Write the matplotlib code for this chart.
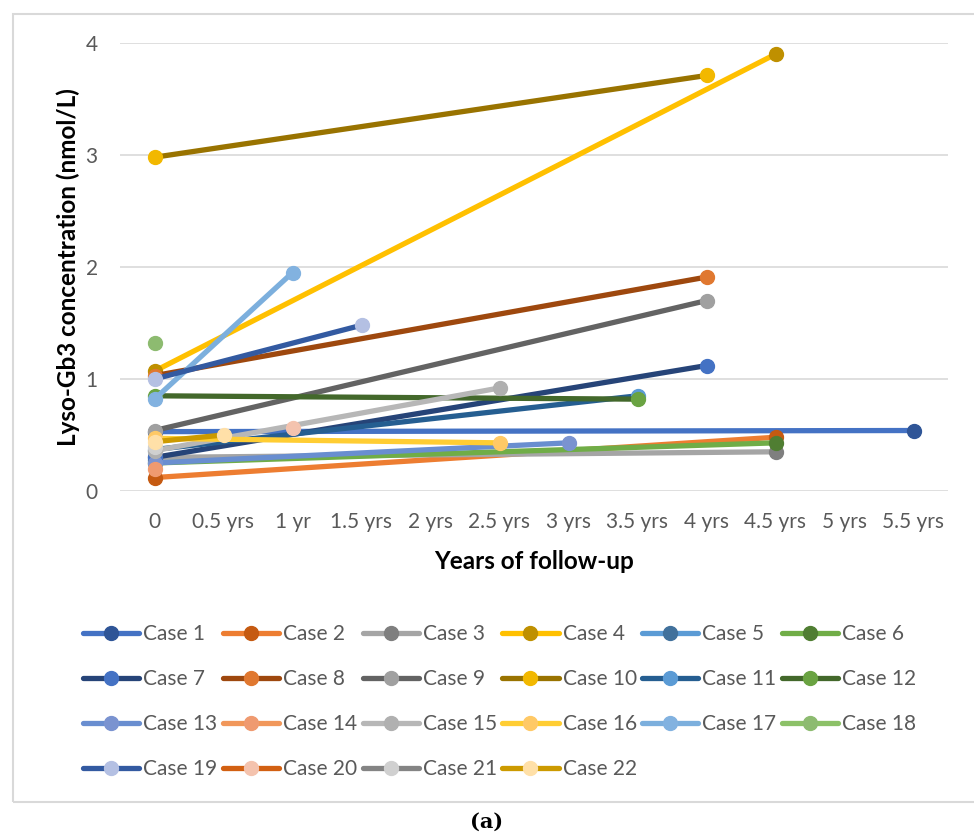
import matplotlib
matplotlib.use("Agg")
import matplotlib.pyplot as plt
from matplotlib.patches import Rectangle

plt.rcParams['font.family'] = ['Lato', 'DejaVu Sans']

# follow-up time points on the category axis
years = ['0', '0.5 yrs', '1 yr', '1.5 yrs', '2 yrs', '2.5 yrs', '3 yrs',
         '3.5 yrs', '4 yrs', '4.5 yrs', '5 yrs', '5.5 yrs']

cases = ['Case %d' % i for i in range(1, 23)]

# Lyso-Gb3 at baseline (year 0), None = not measured
baseline = [0.53, 0.12, 0.30, 1.07, 0.28, 0.25, 0.30, 1.03, 0.54, 2.98, 0.37,
            0.85, 0.25, 0.20, 0.36, 0.47, 0.82, 1.32, 1.00, None, 0.39, 0.44]
# time of last measurement and its value
last_time = ['5.5 yrs', '4.5 yrs', '4.5 yrs', '4.5 yrs', None, '4.5 yrs',
             '4 yrs', '4 yrs', '4 yrs', '4 yrs', '3.5 yrs', '3.5 yrs', '3 yrs',
             None, '2.5 yrs', '2.5 yrs', '1 yr', None, '1.5 yrs', '1 yr', None,
             '0.5 yrs']
last_value = [0.54, 0.48, 0.35, 3.90, None, 0.43, 1.12, 1.91, 1.70, 3.71, 0.85,
              0.82, 0.43, None, 0.92, 0.43, 1.95, None, 1.48, 0.56, None, 0.50]

line_colors = ['#4472C4', '#ED7D31', '#A5A5A5', '#FFC000', '#5B9BD5', '#70AD47',
               '#264478', '#9E480E', '#636363', '#997300', '#255E91', '#43682B',
               '#698ED0', '#F1975A', '#B7B7B7', '#FFCD33', '#7CAFDD', '#8CC168',
               '#335AA1', '#D26012', '#848484', '#CC9A00']
marker_colors = ['#2F5597', '#C55A11', '#7F7F7F', '#BF9000', '#41719C', '#507E32',
                 '#4472C4', '#E07830', '#A0A0A0', '#F2B800', '#5B9BD5', '#6AA342',
                 '#7A93D0', '#EF9A70', '#B0B0B0', '#FFC966', '#82B2E0', '#8DBB70',
                 '#B4C0E3', '#F4C3AE', '#D0D0D0', '#FFE0A8']

fig = plt.figure(figsize=(9.74, 8.34), dpi=100)
W, H = 974, 834
ax = fig.add_axes([120 / W, 1 - 491 / H, 828 / W, 448 / H])

handles = []
for i, name in enumerate(cases):
    xs, ys = [], []
    if baseline[i] is not None:
        xs.append(0)
        ys.append(baseline[i])
    if last_value[i] is not None:
        xs.append(years.index(last_time[i]))
        ys.append(last_value[i])
    h, = ax.plot(xs, ys, color=line_colors[i], lw=3.8, marker='o', ms=10,
                 mfc=marker_colors[i], mec=marker_colors[i],
                 solid_capstyle='round', zorder=3 + i, label=name)
    handles.append(h)

ax.set_xlim(-0.5, len(years) - 0.5)
ax.set_ylim(0, 4)
ax.set_xticks(range(len(years)))
ax.set_xticklabels(years)
ax.set_yticks([0, 1, 2, 3, 4])
ax.tick_params(length=0, labelsize=15, labelcolor='#595959')
ax.tick_params(axis='x', pad=15)
ax.tick_params(axis='y', pad=16)
ax.grid(axis='y', color='#D9D9D9', lw=1.2)
ax.set_axisbelow(True)
for s in ax.spines.values():
    s.set_visible(False)

ax.set_ylabel('Lyso-Gb3 concentration (nmol/L)', fontsize=17.5,
              fontweight='bold', va='center')
ax.yaxis.set_label_coords(-0.0628, 0.5)
ax.set_xlabel('Years of follow-up', fontsize=17.5, fontweight='bold',
              va='center')
ax.xaxis.set_label_coords(0.5, -0.158)

# Excel fills the legend row by row, matplotlib column by column
order = []
for c in range(6):
    order += list(range(c, len(cases), 6))
leg = fig.legend([handles[k] for k in order], [cases[k] for k in order],
                 ncol=6, loc='upper left', bbox_to_anchor=(83 / W, 1 - 624 / H),
                 frameon=False, fontsize=15, handlelength=2.7, handletextpad=0.2,
                 columnspacing=0.25, labelspacing=1.2, borderpad=0,
                 borderaxespad=0, numpoints=1)
for t in leg.get_texts():
    t.set_color('#595959')

# chart area border
fig.patches.append(Rectangle((13 / W, 1 - 802 / H), 1.0, 788 / H,
                             transform=fig.transFigure, fill=False,
                             edgecolor='#D9D9D9', lw=1.5))

fig.text(487 / W, 1 - 822 / H, '(a)', ha='center', va='center',
         fontsize=15, fontweight='bold', family='DejaVu Serif')

fig.savefig('out.png', dpi=100)
